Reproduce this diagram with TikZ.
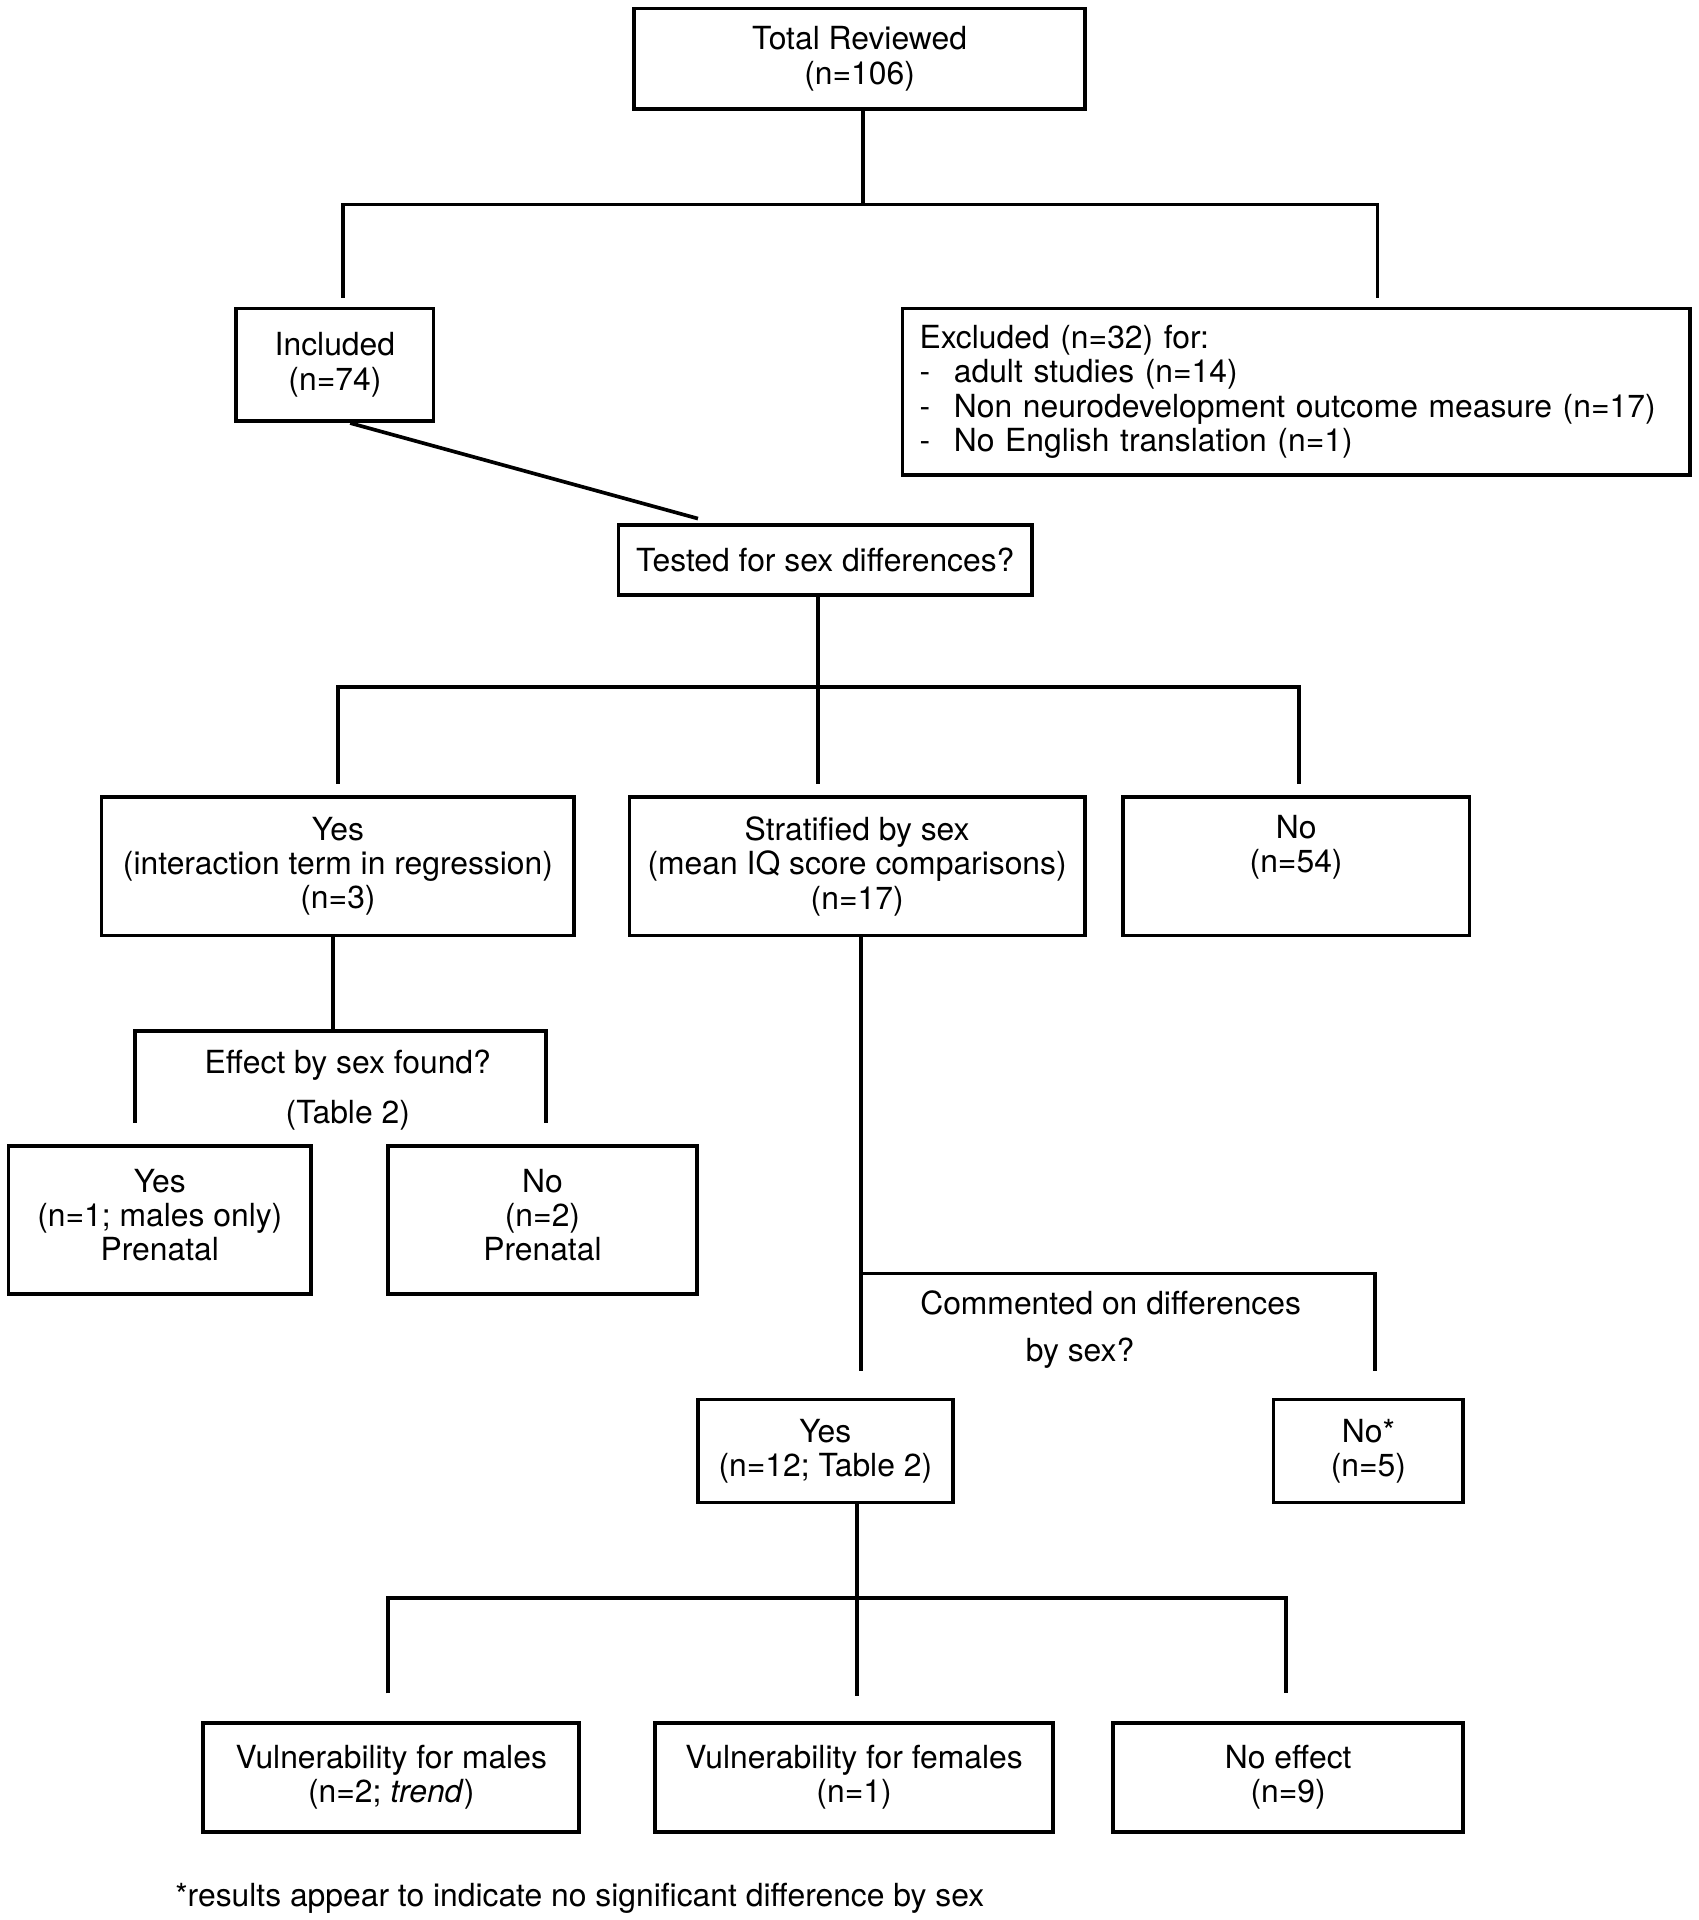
\documentclass[tikz,border=0pt]{standalone}
\usepackage{fontspec}
\setmainfont{TeX Gyre Heros}
\begin{document}
\begin{tikzpicture}[x=1pt,y=-1pt,
  every node/.style={font=\fontsize{26}{28}\selectfont},
  box/.style={draw,line width=3pt,rectangle,align=center,inner sep=0pt},
  conn/.style={line width=3pt},
  lbl/.style={inner sep=0pt}]
\useasboundingbox[fill=white] (0,0) rectangle (1387,1568);
% boxes
\node[box,minimum width=368pt,minimum height=82pt] (total) at (702,48) {Total Reviewed\\(n=106)};
\node[box,minimum width=161pt,minimum height=92pt] (incl) at (273.5,298) {Included\\(n=74)};
\node[box,minimum width=643pt,minimum height=136pt,text width=615pt,align=left,inner xsep=14pt] (excl) at (1058.5,320)
  {Excluded (n=32) for:\\\makebox[28pt][l]{-}adult studies (n=14)\\\makebox[28pt][l]{-}Non neurodevelopment outcome measure (n=17)\\\makebox[28pt][l]{-}No English translation (n=1)};
\node[box,minimum width=338pt,minimum height=57pt] (tested) at (674,457.5) {Tested for sex differences?};
\node[box,minimum width=386pt,minimum height=113pt] (yes3) at (276,707.5) {Yes\\(interaction term in regression)\\(n=3)};
\node[box,minimum width=372pt,minimum height=113pt] (strat) at (700,707.5) {Stratified by sex\\(mean IQ score comparisons)\\(n=17)};
\node[box,minimum width=283pt,minimum height=113pt] (no54) at (1058.5,707.5) {No\\(n=54)\\\strut};
\node[box,minimum width=247pt,minimum height=121pt] (yes1) at (130.5,996.5) {Yes\\(n=1; males only)\\Prenatal\strut};
\node[box,minimum width=252pt,minimum height=121pt] (no2) at (443,996.5) {No\\(n=2)\\Prenatal\strut};
\node[box,minimum width=208pt,minimum height=84pt] (yes12) at (674,1185) {Yes\\(n=12; Table 2)};
\node[box,minimum width=155pt,minimum height=84pt] (nostar) at (1117.5,1185) {No*\\(n=5)};
\node[box,minimum width=307pt,minimum height=89pt] (vm) at (319.5,1451.5) {Vulnerability for males\\(n=2; \textit{trend})};
\node[box,minimum width=325pt,minimum height=89pt] (vf) at (697.5,1451.5) {Vulnerability for females\\(n=1)};
\node[box,minimum width=286pt,minimum height=89pt] (ne) at (1052,1451.5) {No effect\\(n=9)};
% labels
\node[lbl] (eff) at (284,870) {Effect by sex found?};
\node[lbl] (tab) at (284,911) {(Table 2)};
\node[lbl] (com) at (907,1064) {Commented on differences};
\node[lbl] (bysex) at (882,1105) {by sex?};
\node[lbl,anchor=west] (foot) at (143,1550) {*results appear to indicate no significant difference by sex};
% junction coordinates
\coordinate (t0) at (705,167);
\coordinate (tL) at (280,167);
\coordinate (tR) at (1125,167);
\coordinate (tLe) at (280,243);
\coordinate (tRe) at (1125,243);
\coordinate (m0) at (668,561);
\coordinate (mL) at (276,561);
\coordinate (mR) at (1061,561);
\coordinate (mLe) at (276,640);
\coordinate (mMe) at (668,640);
\coordinate (mRe) at (1061,640);
\coordinate (e0) at (272,842);
\coordinate (eL) at (110,842);
\coordinate (eR) at (446,842);
\coordinate (eLe) at (110,917);
\coordinate (eRe) at (446,917);
\coordinate (c0) at (703,1040);
\coordinate (cR) at (1123,1040);
\coordinate (cLe) at (703,1120);
\coordinate (cRe) at (1123,1120);
\coordinate (b0) at (700,1305);
\coordinate (bL) at (317,1305);
\coordinate (bR) at (1050,1305);
\coordinate (bLe) at (317,1383);
\coordinate (bMe) at (700,1385);
\coordinate (bRe) at (1050,1383);
% connectors
\draw[conn] ([xshift=3pt]total.south) -- (t0);
\draw[conn] (tLe) -- (tL) -- (tR) -- (tRe);
\draw[conn] ([xshift=12.5pt]incl.south) -- ([xshift=-104pt,yshift=4pt]tested.north);
\draw[conn] ([xshift=-6pt]tested.south) -- (m0) -- (mMe);
\draw[conn] (mLe) -- (mL) -- (mR) -- (mRe);
\draw[conn] ([xshift=-4pt]yes3.south) -- (e0);
\draw[conn] (eLe) -- (eL) -- (eR) -- (eRe);
\draw[conn] ([xshift=3pt]strat.south) -- (c0) -- (cLe);
\draw[conn] (c0) -- (cR) -- (cRe);
\draw[conn] ([xshift=26pt]yes12.south) -- (b0) -- (bMe);
\draw[conn] (bLe) -- (bL) -- (bR) -- (bRe);
\end{tikzpicture}
\end{document}
